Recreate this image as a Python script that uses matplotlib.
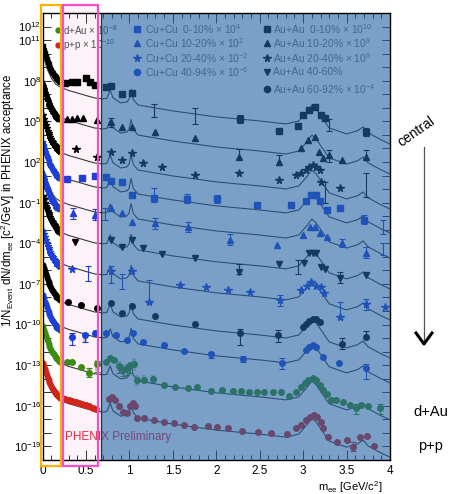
import numpy as np
import matplotlib.pyplot as plt
from matplotlib.patches import Rectangle
from matplotlib.lines import Line2D
from matplotlib.ticker import FixedLocator, FixedFormatter

plt.rcParams['font.family'] = ['Liberation Sans', 'DejaVu Sans']
plt.rcParams['mathtext.fontset'] = 'custom'
plt.rcParams['mathtext.rm'] = 'Liberation Sans'
plt.rcParams['mathtext.it'] = 'Liberation Sans:italic'
plt.rcParams['mathtext.default'] = 'regular'

# hadronic cocktail shape, log10 relative to its value at 1.5 GeV
cocktail_m = [0.0, 0.05, 0.1, 0.15, 0.2, 0.3, 0.4, 0.5, 0.6, 0.7, 0.74, 0.78, 0.81,
              0.9, 0.97, 0.995, 1.02, 1.045, 1.1, 1.3, 1.5, 2.0, 2.5, 2.8, 2.95, 3.05,
              3.1, 3.15, 3.3, 3.5, 3.63, 3.69, 3.75, 3.9, 4.0]
cocktail_rel = [4.28, 3.17, 2.44, 1.99, 1.77, 1.51, 1.33, 1.14, 0.96, 0.89, 0.92, 1.55, 0.98,
                0.59, 0.66, 0.85, 1.59, 0.85, 0.44, 0.22, 0.0, -0.44, -0.74, -0.96, -0.74, 0.0,
                0.44, 0.15, -1.25, -1.70, -1.45, -1.18, -1.62, -2.14, -2.44]

# pi0 Dalitz region, log10 relative to the value at 0.2 GeV
dalitz_m = [0.01, 0.02, 0.03, 0.04, 0.05, 0.06, 0.07, 0.08, 0.09, 0.10,
            0.11, 0.12, 0.13, 0.14, 0.15, 0.16, 0.17, 0.18, 0.19, 0.20]
dalitz_rel = [2.6, 2.35, 2.1, 1.88, 1.67, 1.48, 1.31, 1.15, 1.0, 0.87,
              0.74, 0.63, 0.52, 0.42, 0.33, 0.25, 0.18, 0.11, 0.05, 0.0]

# Au+Au 0-10% x 10^10
auau0010_m = [0.26, 0.34, 0.40, 0.50, 0.55, 0.61, 0.73, 0.79, 0.91, 1.03, 2.27, 2.72, 2.94,
              3.00, 3.07, 3.14, 3.20, 3.25, 3.72]
auau0010_logy = [7.86, 7.93, 7.93, 8.18, 7.93, 7.69, 7.56, 7.61, 7.02, 7.12, 5.18, 4.29, 4.68,
                 5.47, 5.84, 6.06, 5.47, 5.25, 4.24]
auau0010_bars = [(1.28, 5.33, 6.28), (1.76, 4.81, 5.99), (2.27, 4.85, 5.45), (3.30, 4.3, 5.2),
                 (3.72, 3.95, 4.5)]
auau0010_low, auau0010_cocktail = 7.93, 5.77

# Au+Au 10-20% x 10^8
auau1020_m = [0.28, 0.34, 0.40, 0.47, 0.63, 0.79, 0.91, 1.03, 1.29, 1.76, 2.26, 2.72, 2.97,
              3.06, 3.14, 3.18, 3.23, 3.30, 3.45, 3.72]
auau1020_logy = [5.16, 5.16, 5.23, 5.26, 5.10, 4.98, 4.61, 4.61, 4.24, 3.75, 2.40, 2.03, 3.02,
                 3.63, 3.87, 2.76, 2.28, 2.52, 2.15, 2.40]
auau1020_bars = [(0.79, 4.6, 5.25), (2.26, 2.2, 2.95), (2.72, 1.8, 2.5), (3.30, 2.0, 2.9),
                 (3.72, 2.2, 2.85)]
auau1020_low, auau1020_cocktail = 5.23, 3.55

# Au+Au 20-40% x 10^6
auau2040_m = [0.38, 0.63, 0.79, 0.91, 1.03, 1.16, 1.38, 1.76, 2.26, 2.72, 2.92, 2.98, 3.03,
              3.07, 3.11, 3.15, 3.19, 3.21, 3.42]
auau2040_logy = [2.94, 2.40, 2.76, 2.15, 2.69, 1.95, 1.66, 1.05, 1.17, 0.68, 1.04, 1.17, 1.41,
                 1.66, 1.78, 1.66, 1.41, 0.55, 0.06]
auau2040_bars = [(3.25, -1.0, 0.55), (3.72, -0.6, 1.2)]
auau2040_low, auau2040_cocktail = 2.84, 0.97

# Cu+Cu 0-10% x 10^4
cucu0010_m = [0.28, 0.45, 0.60, 0.73, 0.79, 0.91, 1.03, 1.28, 1.66, 2.01, 2.47, 2.86, 3.03,
              3.09, 3.15, 3.19, 3.27, 3.42, 3.70]
cucu0010_logy = [0.73, 0.80, 0.97, 0.87, 0.62, 0.53, -0.43, -0.68, -0.73, -0.73, -1.17, -1.17,
                 -0.85, -0.43, -0.43, -0.85, -1.54, -1.41, -2.28]
cucu0010_bars = [(1.28, -0.95, 0.05), (1.66, -1.0, -0.35), (2.01, -1.0, -0.4),
                 (3.27, -1.8, -1.3), (3.70, -2.6, -1.9), (3.92, -3.3, -2.3)]
cucu0010_low, cucu0010_cocktail = 0.80, -0.80

# Cu+Cu 10-20% x 10^2
cucu1020_m = [0.35, 0.60, 0.79, 0.91, 1.03, 1.29, 1.68, 2.16, 2.70, 3.00, 3.08, 3.14, 3.19,
              3.27, 3.45, 3.72]
cucu1020_logy = [-1.78, -1.91, -1.41, -1.78, -2.40, -2.52, -2.77, -3.75, -4.12, -3.38, -2.77,
                 -2.77, -3.21, -3.51, -3.99, -4.73]
cucu1020_bars = [(0.35, -2.2, -1.4), (0.60, -2.3, -1.5), (0.72, -2.3, -1.4), (1.29, -2.95, -2.15),
                 (1.68, -3.15, -2.45), (2.16, -4.1, -3.3), (3.45, -4.3, -3.7),
                 (3.72, -5.1, -4.3), (3.92, -4.9, -4.0)]
cucu1020_low, cucu1020_cocktail = -1.4, -2.65

# Au+Au 40-60%
auau4060_m = [0.37, 0.79, 0.91, 1.03, 1.16, 1.38, 1.76, 2.26, 2.72, 3.01, 3.07, 3.11, 3.15,
              3.20, 3.25, 3.42, 3.72]
auau4060_logy = [-3.88, -3.75, -4.25, -3.75, -4.37, -4.79, -5.10, -6.09, -5.52, -5.47, -4.69,
                 -4.69, -4.69, -5.72, -5.91, -6.58, -6.34]
auau4060_bars = [(2.26, -6.3, -5.5), (2.94, -6.3, -5.2), (3.42, -6.9, -6.1)]
auau4060_low, auau4060_cocktail = -3.24, -4.93

# Cu+Cu 20-40% x 10^-2
cucu2040_m = [0.34, 0.79, 1.03, 1.23, 1.58, 1.88, 2.14, 2.39, 2.73, 2.97, 3.04, 3.09, 3.15,
              3.20, 3.24, 3.42, 3.72, 3.94]
cucu2040_logy = [-5.89, -6.02, -6.02, -8.30, -7.07, -7.24, -7.44, -7.57, -8.18, -7.44, -7.15,
                 -6.83, -7.15, -7.20, -7.69, -9.41, -8.48, -8.67]
cucu2040_bars = [(0.52, -6.8, -5.7), (0.79, -6.9, -5.7), (0.91, -7.4, -6.3), (1.23, -8.4, -6.7),
                 (2.73, -8.6, -7.8), (3.42, -9.6, -8.3), (3.72, -8.9, -8.1)]
cucu2040_low, cucu2040_cocktail = -5.67, -7.22

# Au+Au 60-92% x 10^-4
auau6092_m = [0.29, 0.44, 0.63, 0.79, 0.91, 1.03, 1.29, 1.76, 2.27, 2.71, 3.00, 3.03, 3.07,
              3.11, 3.15, 3.19, 3.45, 3.72]
auau6092_logy = [-8.30, -8.55, -8.79, -8.38, -9.16, -8.62, -9.36, -9.95, -10.64, -10.76,
                 -10.15, -9.95, -9.71, -9.58, -9.58, -9.78, -11.45, -10.93]
auau6092_bars = [(2.27, -11.5, -10.3), (2.71, -11.3, -10.4), (3.45, -11.8, -11.0),
                 (3.72, -11.0, -10.5)]
auau6092_low, auau6092_cocktail = -8.18, -10.03

# Cu+Cu 40-94% x 10^-6
cucu4094_m = [0.34, 0.49, 0.61, 0.73, 0.85, 0.97, 1.04, 1.16, 1.40, 1.63, 1.94, 2.31, 2.76,
              3.03, 3.07, 3.11, 3.15, 3.23, 3.41, 3.72]
cucu4094_logy = [-10.89, -10.76, -10.64, -10.64, -10.76, -11.13, -10.64, -11.26, -11.50,
                 -11.92, -12.19, -12.56, -12.85, -11.87, -11.63, -11.50, -11.67, -12.41,
                 -12.81, -13.22]
cucu4094_bars = [(0.34, -11.5, -10.6), (0.49, -11.3, -10.6), (1.94, -12.5, -12.0),
                 (2.31, -12.8, -12.3), (2.76, -13.3, -12.5), (3.72, -14.0, -12.9)]
cucu4094_low, cucu4094_cocktail = -10.4, -11.87

# d+Au x 10^-8
dau_m = [0.28, 0.34, 0.44, 0.54, 0.63, 0.73, 0.78, 0.82, 0.88, 0.93, 0.97, 1.01, 1.05, 1.09,
         1.17, 1.27, 1.40, 1.53, 1.67, 1.78, 1.94, 2.07, 2.19, 2.29, 2.38, 2.47, 2.55, 2.65,
         2.75, 2.84, 2.92, 2.97, 3.02, 3.06, 3.11, 3.15, 3.19, 3.23, 3.27, 3.32, 3.38, 3.46,
         3.54, 3.61, 3.67, 3.75, 3.88]
dau_logy = [-12.73, -12.73, -13.10, -13.55, -12.93, -12.73, -12.48, -12.61, -13.05, -13.35,
            -13.22, -12.98, -12.90, -14.08, -14.08, -14.01, -14.45, -14.62, -14.70, -14.62,
            -14.87, -14.82, -14.87, -14.87, -14.95, -14.95, -14.95, -14.99, -14.95, -15.27,
            -14.95, -14.62, -14.33, -14.08, -13.96, -14.08, -14.45, -14.82, -15.12, -15.56,
            -15.56, -15.69, -15.93, -16.17, -15.93, -16.00, -16.17]
dau_bars = [(0.54, -13.9, -13.2), (0.63, -13.5, -12.7), (0.88, -13.6, -12.9),
            (0.93, -13.8, -13.2), (0.97, -13.7, -13.1), (1.01, -13.6, -12.9),
            (3.61, -16.6, -15.9), (3.88, -16.6, -15.9)]
dau_low, dau_cocktail = -12.73, -14.6

# p+p x 10^-10
pp_m = [0.22, 0.26, 0.30, 0.34, 0.38, 0.42, 0.46, 0.50, 0.54, 0.58, 0.62,
        0.76, 0.80, 0.84, 0.88, 0.93, 0.97, 1.01, 1.04, 1.06, 1.09, 1.17, 1.28, 1.40, 1.51,
        1.63, 1.74, 1.90, 2.01, 2.13, 2.30, 2.48, 2.63, 2.82, 2.92, 2.98, 3.03, 3.08, 3.12,
        3.16, 3.20, 3.23, 3.29, 3.39, 3.50, 3.57, 3.66, 3.74, 3.82]
pp_logy = [-15.45, -15.50, -15.58, -15.65, -15.72, -15.80, -15.88, -15.95, -16.05, -16.15,
           -16.25, -15.51, -15.32, -15.56, -16.05, -16.42, -16.54, -16.05, -15.80, -16.05,
           -16.91, -16.91, -17.04, -17.16, -17.28, -17.41, -17.53, -17.48, -17.58, -17.65,
           -17.83, -17.94, -18.02, -18.07, -17.65, -17.41, -17.04, -16.79, -16.67, -16.84,
           -17.16, -17.65, -18.27, -18.64, -18.51, -19.01, -18.27, -18.22, -18.96]
pp_bars = [(3.57, -19.3, -18.7)]
pp_low, pp_cocktail = -15.41, -17.35

# systematic boxes (m, lo, hi) in log10
syst_boxes = [(0.34, -11.3, -10.6), (0.49, -11.3, -10.6), (0.61, -11.0, -10.4),
              (0.54, -13.8, -13.3), (0.63, -13.4, -12.6), (0.88, -13.5, -12.7),
              (0.93, -13.7, -13.0), (0.97, -13.6, -12.9), (1.05, -13.4, -12.5),
              (1.09, -14.5, -13.7), (1.17, -14.4, -13.7), (1.27, -14.4, -13.7)]

BLACK, BLUE, GREEN, RED = '#000000', '#1d3fd8', '#3c8c14', '#d0251a'

series = [
    (auau0010_m, auau0010_logy, auau0010_bars, auau0010_low, auau0010_cocktail, BLACK, 's', 4.0),
    (auau1020_m, auau1020_logy, auau1020_bars, auau1020_low, auau1020_cocktail, BLACK, '^', 4.5),
    (auau2040_m, auau2040_logy, auau2040_bars, auau2040_low, auau2040_cocktail, BLACK, '*', 5.5),
    (cucu0010_m, cucu0010_logy, cucu0010_bars, cucu0010_low, cucu0010_cocktail, BLUE, 's', 4.0),
    (cucu1020_m, cucu1020_logy, cucu1020_bars, cucu1020_low, cucu1020_cocktail, BLUE, '^', 4.5),
    (auau4060_m, auau4060_logy, auau4060_bars, auau4060_low, auau4060_cocktail, BLACK, 'v', 4.5),
    (cucu2040_m, cucu2040_logy, cucu2040_bars, cucu2040_low, cucu2040_cocktail, BLUE, '*', 5.5),
    (auau6092_m, auau6092_logy, auau6092_bars, auau6092_low, auau6092_cocktail, BLACK, 'o', 4.0),
    (cucu4094_m, cucu4094_logy, cucu4094_bars, cucu4094_low, cucu4094_cocktail, BLUE, 'o', 4.0),
    (dau_m, dau_logy, dau_bars, dau_low, dau_cocktail, GREEN, 'o', 4.0),
    (pp_m, pp_logy, pp_bars, pp_low, pp_cocktail, RED, 'o', 4.0),
]

W, H = 450, 494
fig = plt.figure(figsize=(W / 100, H / 100), dpi=100)
ax = fig.add_axes([42.5 / W, 34 / H, 347.5 / W, 447 / H])
ax.set_facecolor('none')


def fig_rect(x0, y0, x1, y1, **kw):
    # rectangle given in pixels from the top-left corner
    return Rectangle((x0 / W, 1 - y1 / H), (x1 - x0) / W, (y1 - y0) / H,
                     transform=fig.transFigure, **kw)


# light pink fill of the intermediate-mass box
fig.add_artist(fig_rect(63, 5, 98, 466, facecolor='#fdf2f8', edgecolor='none', zorder=-1))

c_rel = np.array(cocktail_rel)
d_rel = np.array(dalitz_rel)
for m, logy, bars, low, cock, col, mk, ms in series:
    ax.plot(cocktail_m, 10 ** (c_rel + cock), color='#3a3a3a', lw=0.8, zorder=2)
    ax.plot(dalitz_m, 10 ** (d_rel + low), ls='none', marker=mk, ms=ms * 0.85,
            color=col, mec=col, zorder=3)
    ax.plot(m, 10 ** np.array(logy), ls='none', marker=mk, ms=ms, color=col, mec=col, zorder=3)
    if bars:
        bm = np.array([b[0] for b in bars])
        lo = 10 ** np.array([b[1] for b in bars])
        hi = 10 ** np.array([b[2] for b in bars])
        mid = np.sqrt(lo * hi)
        ax.errorbar(bm, mid, yerr=[mid - lo, hi - mid], fmt='none', ecolor=col,
                    elinewidth=0.8, capsize=2, capthick=0.8, zorder=2.5)

for bm, lo, hi in syst_boxes:
    ax.add_patch(Rectangle((bm - 0.025, 10 ** lo), 0.05, 10 ** hi - 10 ** lo,
                           facecolor='#a8a8a8', edgecolor='none', alpha=0.6, zorder=1.5))

ax.set_yscale('log')
ax.set_xlim(0, 4)
ax.set_ylim(1e-20, 1e13)

# legends drawn as text inside the frame
leg_fs = 7.4
ax.plot(0.0432, 0.9620, 'o', ms=3.5, color=GREEN, transform=ax.transAxes, zorder=3)
ax.plot(0.0432, 0.9290, 'o', ms=3.5, color=RED, transform=ax.transAxes, zorder=3)
ax.text(0.059, 0.9620, 'd+Au $\\times$ 10$^{-8}$', fontsize=7.0, color='#505050',
        va='center', transform=ax.transAxes, zorder=3)
ax.text(0.059, 0.9290, 'p+p $\\times$ 10$^{-10}$', fontsize=7.0, color='#505050',
        va='center', transform=ax.transAxes, zorder=3)

cu_labels = ['Cu+Cu  0-10% $\\times$ 10$^{4}$', 'Cu+Cu 10-20% $\\times$ 10$^{2}$',
             'Cu+Cu 20-40% $\\times$ 10$^{-2}$', 'Cu+Cu 40-94% $\\times$ 10$^{-6}$']
cu_markers = ['s', '^', '*', 'o']
au_labels = ['Au+Au  0-10% $\\times$ 10$^{10}$', 'Au+Au 10-20% $\\times$ 10$^{8}$',
             'Au+Au 20-40% $\\times$ 10$^{6}$', 'Au+Au 40-60%',
             'Au+Au 60-92% $\\times$ 10$^{-4}$']
au_markers = ['s', '^', '*', 'v', 'o']
rows = [0.9635, 0.9322, 0.8987, 0.8687, 0.8293]
for i, (lab, mk) in enumerate(zip(cu_labels, cu_markers)):
    ax.plot(0.272, rows[i], mk, ms=4.5 if mk != '*' else 5.5, color=BLUE,
            transform=ax.transAxes, zorder=3)
    ax.text(0.295, rows[i], lab, fontsize=leg_fs, color='#707070', va='center',
            transform=ax.transAxes, zorder=3)
for i, (lab, mk) in enumerate(zip(au_labels, au_markers)):
    ax.plot(0.645, rows[i], mk, ms=4.5 if mk != '*' else 5.5, color=BLACK,
            transform=ax.transAxes, zorder=3)
    ax.text(0.663, rows[i], lab, fontsize=leg_fs, color='#707070', va='center',
            transform=ax.transAxes, zorder=3)

ax.text(0.065, 0.051, 'PHENIX Preliminary', fontsize=8.5, color='#e8283c', va='center',
        transform=ax.transAxes, zorder=3)

# blue translucent panel over the intermediate/high mass part
ax.axvspan(0.68, 4.0, color='#2361a3', alpha=0.6, lw=0, zorder=5)
ax.axvline(0.675, color='#26364c', lw=1.0, zorder=6)

# ticks
ax.xaxis.set_major_locator(FixedLocator([0, 0.5, 1, 1.5, 2, 2.5, 3, 3.5, 4]))
ax.xaxis.set_major_formatter(FixedFormatter(['0', '0.5', '1', '1.5', '2', '2.5', '3', '3.5', '4']))
ax.xaxis.set_minor_locator(FixedLocator(np.arange(0, 4.01, 0.1)))
decades = list(range(-20, 14))
shown = {12, 11, 8, 5, 2, -1, -4, -7, -10, -13, -16, -19}
ax.yaxis.set_major_locator(FixedLocator([10.0 ** d for d in decades]))
ax.yaxis.set_major_formatter(FixedFormatter(
    ['10$^{%d}$' % d if d in shown else '' for d in decades]))
ax.yaxis.set_minor_locator(FixedLocator([]))
ax.tick_params(which='both', direction='in', top=True, right=True, labelsize=8.5, width=0.7,
               color='#303030')
ax.tick_params(axis='y', labelsize=8)
ax.tick_params(which='major', length=7)
ax.tick_params(which='minor', length=3.5)
ax.tick_params(axis='y', which='major', length=6, pad=1)
for sp in ax.spines.values():
    sp.set_zorder(7)
    sp.set_linewidth(1.0)

fig.text(8 / W, 1 - 200 / H,
         '1/N$_{Event}$ dN/dm$_{ee}$ [c$^{2}$/GeV] in PHENIX acceptance',
         rotation=90, fontsize=8.3, ha='center', va='center')
fig.text(350 / W, 1 - 487 / H, 'm$_{ee}$ [GeV/c$^{2}$]', fontsize=8, ha='center', va='center')

# highlighted mass windows
fig.add_artist(fig_rect(41, 5, 60.5, 466, facecolor='none', edgecolor='#f7b500', lw=1.6, zorder=10))
fig.add_artist(fig_rect(63, 5, 98, 466, facecolor='none', edgecolor='#f04fc6', lw=1.6, zorder=10))

# centrality arrow and system labels
fig.text(416 / W, 1 - 132 / H, 'central', rotation=35, fontsize=10, ha='center', va='center')
fig.add_artist(Line2D([424 / W, 424 / W], [1 - 147 / H, 1 - 343 / H], color='#555555', lw=0.9,
                      transform=fig.transFigure))
fig.add_artist(Line2D([416 / W, 424 / W, 432 / W], [1 - 333 / H, 1 - 344 / H, 1 - 333 / H],
                      color='black', lw=2.2, transform=fig.transFigure))
fig.text(431 / W, 1 - 412 / H, 'd+Au', fontsize=10.5, ha='center', va='center')
fig.text(430 / W, 1 - 446 / H, 'p+p', fontsize=10.5, ha='center', va='center')

fig.savefig('out.png', dpi=100)
